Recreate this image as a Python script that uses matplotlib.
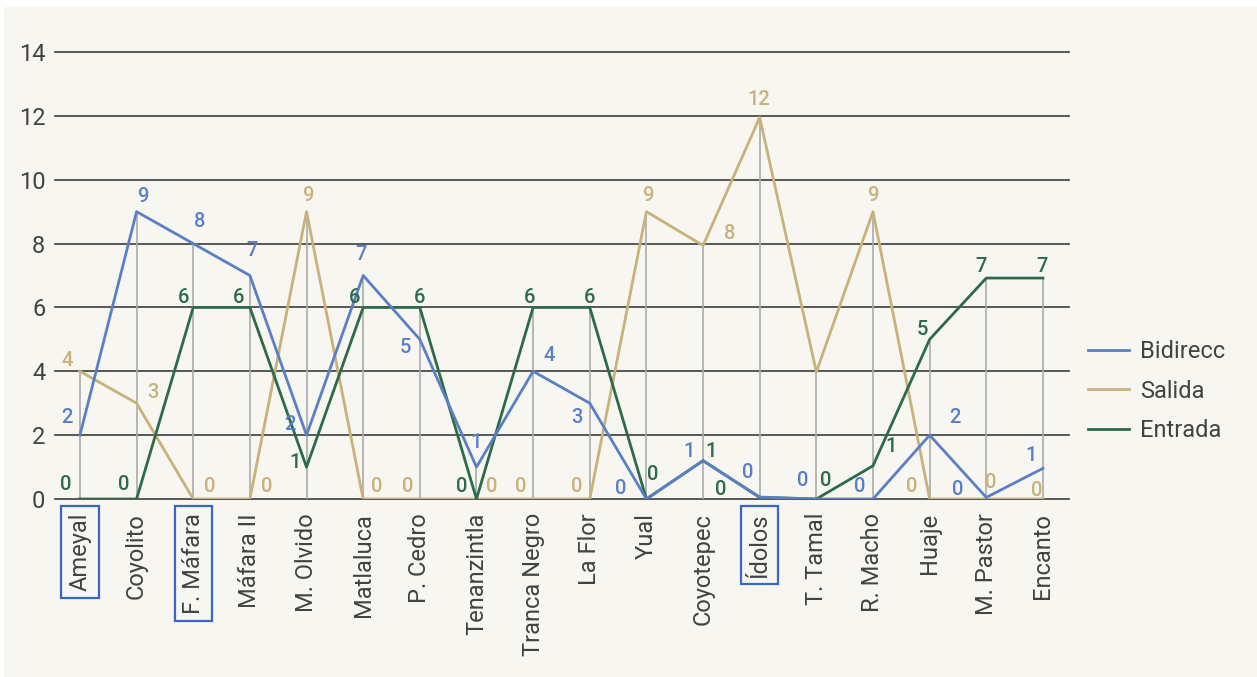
#!/usr/bin/env python3
"""Line chart of Bidirecc / Salida / Entrada counts per locality."""

import matplotlib
matplotlib.use('Agg')
import matplotlib.pyplot as plt
from matplotlib.patches import Rectangle

# Data
localidades = ['Ameyal', 'Coyolito', 'F. Máfara', 'Máfara II', 'M. Olvido',
               'Matlaluca', 'P. Cedro', 'Tenanzintla', 'Tranca Negro', 'La Flor',
               'Yual', 'Coyotepec', 'Ídolos', 'T. Tamal', 'R. Macho', 'Huaje',
               'M. Pastor', 'Encanto']
bidirecc = [2, 9, 8, 7, 2, 7, 5, 1, 4, 3, 0, 1.2, 0.06, 0, 0, 2, 0.05, 0.96]
salida = [4, 3, 0, 0, 9, 0, 0, 0, 0, 0, 9, 7.94, 11.95, 3.98, 9, 0, 0, 0]
entrada = [0, 0, 6, 6, 1, 6, 6, 0, 6, 6, 0, 1.2, 0.05, 0, 1.04, 5, 6.92, 6.92]
destacadas = ['Ameyal', 'F. Máfara', 'Ídolos']

# label offsets in pixels (dx, dy); None = no label
off_bidirecc = [(-13, 18), (6, 15), (6, 22), (2, 25), (-17, 11), (-2, 21),
                (-14, -8), (0, 25), (16, 16), (-13, -14), (-26, 11), (-14, 9),
                (-12, 25), (-14, 18), (-13, 13), (25, 18), (-29, 8), (-12, 13)]
off_salida = [(-13, 11), (16, 11), (16, 13), (17, 13), (1, 16), (14, 13),
              (-12, 13), (15, 13), (-12, 13), (-13, 13), (1, 16), (27, 12),
              (-1, 18), None, (0, 16), (-18, 13), (4, 17), (-6, 9)]
off_entrada = [(-14, 15), (-13, 15), (-10, 10), (-11, 10), (-11, 5), (-9, 10),
               (0, 10), (-15, 12), (-3, 10), (0, 10), (6, 25), (8, 9),
               (-39, 8), (9, 19), (18, 19), (-7, 10), (-5, 12), (-1, 12)]

AZUL = '#5b7fc7'
ARENA = '#c8b27b'
VERDE = '#2c6b48'
FONDO = '#f7f6f1'
TEXTO = '#424242'

plt.rcParams['font.family'] = ['Roboto', 'DejaVu Sans']

W, H = 1257, 677
fig = plt.figure(figsize=(W / 100, H / 100), dpi=100)
fig.patch.set_facecolor('white')
fig.patches.append(Rectangle((4 / W, 0), 1 - 4 / W, 1 - 7 / H,
                             transform=fig.transFigure, facecolor=FONDO,
                             edgecolor='none', zorder=-10))

ax = fig.add_axes([55 / W, 1 - 499 / H, (1069 - 55) / W, (499 - 52) / H])
ax.set_facecolor('none')

x = list(range(len(localidades)))

# grid and drop lines
ax.set_ylim(0, 14)
ax.set_xlim(-0.44, len(localidades) - 1 + 0.46)
ax.set_yticks(range(0, 15, 2))
ax.grid(axis='y', color='#3c3c3c', linewidth=1.2, zorder=0)
ax.set_axisbelow(True)
for gl in ax.get_ygridlines():
    gl.set_clip_on(False)
tops = [max(a, b, c) for a, b, c in zip(bidirecc, salida, entrada)]
ax.vlines(x, 0, tops, color='#ababab', linewidth=1.2, zorder=1)

for side in ax.spines.values():
    side.set_visible(False)

ax.plot(x, salida, color=ARENA, linewidth=2, zorder=3)
ax.plot(x, entrada, color=VERDE, linewidth=2, zorder=4)
ax.plot(x, bidirecc, color=AZUL, linewidth=2, zorder=5)

# value labels
for serie, offs, col in [(salida, off_salida, ARENA),
                         (entrada, off_entrada, VERDE),
                         (bidirecc, off_bidirecc, AZUL)]:
    for i, (v, o) in enumerate(zip(serie, offs)):
        if o is None:
            continue
        ax.annotate(f"{round(v)}", (i, v), xytext=o, textcoords='offset pixels',
                    ha='center', va='center', fontsize=14.5, fontweight='medium',
                    color=col, zorder=6)

# ticks
ax.tick_params(axis='both', length=0, labelsize=17, labelcolor=TEXTO)
ax.tick_params(axis='y', pad=7)
ax.tick_params(axis='x', pad=10)
ax.set_xticks(x)
ax.set_xticklabels(localidades, rotation=90, va='top', ha='center')
for lab in ax.get_xticklabels():
    if lab.get_text() in destacadas:
        lab.set_bbox(dict(facecolor='none', edgecolor='#3d66c4', linewidth=1.6,
                          boxstyle='square,pad=0.3'))

# legend
handles = [plt.Line2D([], [], color=AZUL, linewidth=2),
           plt.Line2D([], [], color=ARENA, linewidth=2),
           plt.Line2D([], [], color=VERDE, linewidth=2)]
leg = fig.legend(handles, ['Bidirecc', 'Salida', 'Entrada'],
                 loc='center left', bbox_to_anchor=(1088 / W, 1 - 391 / H),
                 frameon=False, fontsize=17, handlelength=1.75,
                 handletextpad=0.45, labelspacing=0.7, borderpad=0,
                 borderaxespad=0)
for t in leg.get_texts():
    t.set_color(TEXTO)

fig.savefig('out.png', dpi=100, facecolor=fig.get_facecolor())
plt.close(fig)
